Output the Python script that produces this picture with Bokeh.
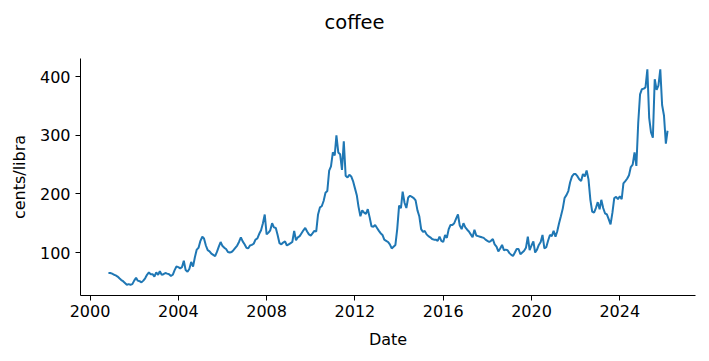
import pandas as pd
from bokeh.plotting import figure
from bokeh.models import Range1d, FixedTicker, DatetimeTickFormatter, Title
from bokeh.embed import file_html
from bokeh.resources import INLINE

title_text = "coffee"
x_label = "Date"
y_label = "cents/libra"
start_month = "2000-11-01"

price = [
    65, 65, 64, 62, 61, 59, 56, 53, 51, 48, 45, 46, 45, 46, 52, 57, 52, 51, 49, 52,
    56, 62, 66, 63, 63, 59, 66, 62, 68, 62, 63, 65, 64, 63, 60, 62, 70, 76, 75, 73,
    75, 86, 70, 67, 72, 84, 76, 92, 105, 108, 120, 127, 124, 112, 104, 102, 98, 96, 94, 101,
    110, 118, 111, 108, 106, 101, 100, 101, 104, 108, 112, 118, 126, 119, 114, 108, 107, 112, 113, 115,
    122, 124, 132, 138, 150, 165, 131, 134, 138, 150, 143, 142, 130, 116, 114, 117, 119, 112, 114, 116,
    118, 137, 121, 126, 128, 133, 138, 142, 136, 131, 129, 133, 137, 136, 165, 177, 179, 188, 202, 205,
    240, 247, 271, 266, 300, 271, 268, 241, 290, 231, 228, 233, 230, 222, 210, 198, 178, 162, 172, 168,
    166, 174, 160, 145, 144, 147, 142, 137, 133, 130, 122, 120, 118, 114, 107, 110, 113, 140, 180, 176,
    204, 185, 176, 194, 197, 195, 193, 189, 172, 162, 140, 135, 137, 131, 128, 126, 123, 122, 122, 120,
    127, 120, 118, 130, 125, 140, 147, 147, 150, 158, 165, 146, 140, 150, 143, 139, 136, 131, 126, 139,
    129, 128, 127, 126, 125, 122, 120, 118, 120, 123, 114, 110, 102, 107, 113, 104, 105, 104, 99, 96,
    94, 100, 106, 106, 97, 100, 103, 108, 127, 104, 112, 119, 100, 105, 113, 118, 130, 107, 109, 120,
    130, 128, 137, 127, 136, 150, 162, 175, 193, 198, 205, 220, 230, 234, 234, 230, 225, 222, 234, 230,
    240, 225, 190, 170, 168, 176, 186, 174, 190, 176, 167, 165, 157, 148, 168, 193, 195, 191, 196, 191,
    218, 222, 226, 232, 246, 250, 271, 248, 322, 370, 379, 380, 382, 413, 330, 305, 296, 396, 378, 385,
    413, 352, 334, 286, 308,
]
y_ticks = [100, 200, 300, 400]
x_tick_years = [2000, 2004, 2008, 2012, 2016, 2020, 2024]

dates = pd.date_range(start_month, periods=len(price), freq="MS")

span = dates[-1] - dates[0]
x_start = dates[0] - 0.05 * span
x_end = dates[-1] + 0.05 * span
y_min, y_max = min(price), max(price)
y_pad = 0.05 * (y_max - y_min)

FONT = "DejaVu Sans"

p = figure(
    width=701, height=353,
    x_axis_type="datetime",
    x_range=Range1d(x_start, x_end),
    y_range=Range1d(y_min - y_pad, y_max + y_pad),
    output_backend="svg", toolbar_location=None,
    min_border_left=80, min_border_right=6, min_border_top=58, min_border_bottom=58,
)
# main title (outermost above panel), with a blank spacer panel between it and the frame
p.title.text = title_text
p.title.align = "left"
p.title.offset = 244
p.title.text_font = FONT
p.title.text_font_size = "19.5px"
p.title.text_font_style = "normal"
p.title.text_color = "black"
p.title.standoff = 16
p.add_layout(Title(text=" ", text_font_size="10px", standoff=4), "above")

p.line(dates, price, line_color="#1f77b4", line_width=2)

p.outline_line_color = None
p.xgrid.visible = False
p.ygrid.visible = False

tick_ms = [pd.Timestamp(f"{y}-01-01").value / 1e6 for y in x_tick_years]
p.xaxis.ticker = FixedTicker(ticks=tick_ms)
p.xaxis.formatter = DatetimeTickFormatter(years="%Y", months="%Y", days="%Y")
p.yaxis.ticker = FixedTicker(ticks=y_ticks)

for ax in (p.xaxis, p.yaxis):
    ax.axis_line_color = "black"
    ax.axis_line_width = 1
    ax.major_tick_line_color = "black"
    ax.major_tick_line_width = 1
    ax.major_tick_out = 5
    ax.major_tick_in = 0
    ax.minor_tick_line_color = None
    ax.major_label_text_font = FONT
    ax.major_label_text_font_size = "16px"
    ax.major_label_text_color = "black"
    ax.axis_label_text_font = FONT
    ax.axis_label_text_font_size = "16px"
    ax.axis_label_text_font_style = "normal"
    ax.axis_label_text_color = "black"

p.xaxis.major_label_standoff = 4
p.yaxis.major_label_standoff = 5
p.xaxis.axis_label_standoff = 10
p.yaxis.axis_label_standoff = 8

p.xaxis.axis_label = x_label
p.yaxis.axis_label = y_label

open("out.html", "w").write(file_html(p, INLINE))
